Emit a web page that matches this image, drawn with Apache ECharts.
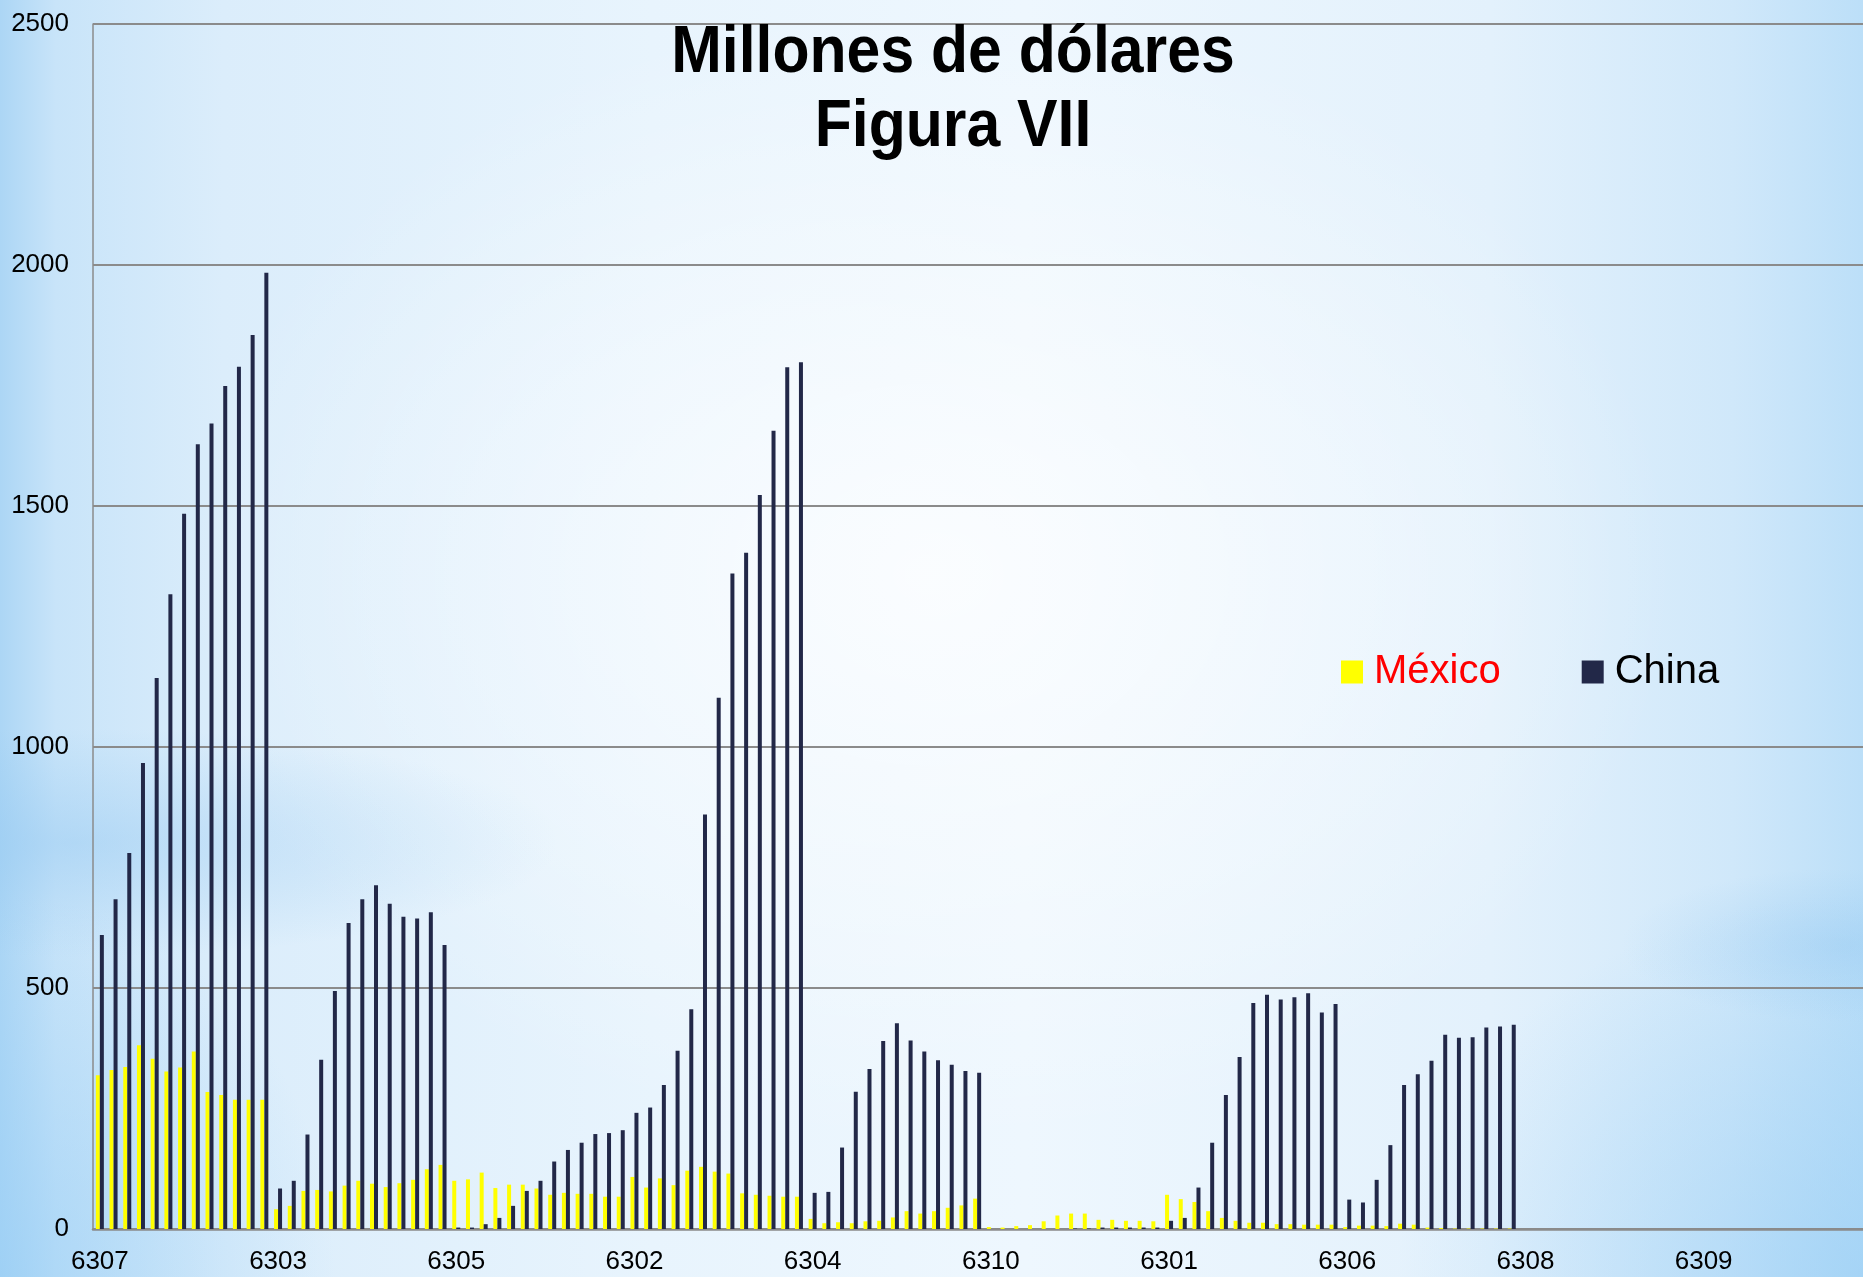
<!DOCTYPE html>
<html>
<head>
<meta charset="utf-8">
<script src="https://cdn.jsdelivr.net/npm/echarts@6/dist/echarts.min.js"></script>
<style>
html, body { margin: 0; padding: 0; width: 1863px; height: 1277px; overflow: hidden; }
#wrap {
  width: 1863px; height: 1277px; overflow: hidden; position: relative;
  background:
    radial-gradient(ellipse 26% 9% at 4% 66%, rgba(140,196,240,0.40) 0%, rgba(140,196,240,0) 100%),
    radial-gradient(ellipse 12% 6% at 99% 74%, rgba(140,196,240,0.35) 0%, rgba(140,196,240,0) 100%),
    radial-gradient(ellipse 40% 45% at 50% 45%, rgba(255,255,255,0.75) 0%, rgba(255,255,255,0) 100%),
    radial-gradient(ellipse 25% 30% at 100% 100%, rgba(150,205,245,0.6) 0%, rgba(150,205,245,0) 100%),
    radial-gradient(ellipse 18% 30% at 0% 100%, rgba(150,205,245,0.6) 0%, rgba(150,205,245,0) 100%),
    linear-gradient(90deg, #acd6f5 0%, #c8e4f9 3%, #dbedfb 12%, #e8f4fd 35%, #eef7fe 55%, #e3f1fc 80%, #d0e8fa 93%, #bcdff8 100%);
}
#chart { position: absolute; left: 0; top: 0; width: 1875px; height: 1277px; }
</style>
</head>
<body>
<div id="wrap"><div id="chart"></div></div>
<script>
// Product groups shown on the category axis (13 bars per group)
const products = ['6307', '6303', '6305', '6302', '6304', '6310', '6301', '6306', '6308', '6309'];
const barsPerProduct = 13;

// México (millions of dollars)
const mexico = [
  319, 330, 336, 381, 353, 327, 335, 368, 284, 278, 268, 268, 268,
  41, 48, 79, 81, 78, 90, 100, 94, 87, 95, 102, 124, 133,
  100, 103, 117, 85, 92, 92, 84, 71, 75, 73, 73, 67, 67,
  108, 86, 105, 91, 121, 129, 119, 115, 74, 71, 69, 67, 67,
  21, 12, 14, 12, 16, 17, 24, 37, 32, 37, 44, 49, 63,
  4, 3, 6, 8, 16, 28, 32, 32, 19, 19, 17, 17, 16,
  71, 62, 56, 37, 23, 17, 13, 13, 10, 10, 9, 9, 9,
  4, 7, 7, 6, 11, 9, 3, 2, 1, 1, 1, 1, 1,
  null, null, null, null, null, null, null, null, null, null, null, null, null,
  null, null, null, null, null, null, null, null, null, null, null, null, null
];

// China (millions of dollars)
const china = [
  610, 684, 780, 967, 1143, 1317, 1484, 1628, 1671, 1749, 1789, 1855, 1984,
  84, 100, 196, 351, 494, 635, 684, 713, 675, 648, 644, 657, 589,
  3, 3, 10, 23, 48, 79, 100, 140, 164, 179, 197, 199, 205,
  241, 252, 299, 370, 456, 860, 1102, 1360, 1403, 1523, 1656, 1788, 1798,
  75, 77, 169, 285, 332, 390, 427, 391, 368, 350, 341, 328, 324,
  0, 0, 0, 0, 0, 0, 1, 1, 3, 3, 3, 3, 3,
  17, 23, 86, 179, 278, 357, 469, 486, 476, 481, 489, 449, 467,
  61, 55, 102, 174, 299, 321, 349, 403, 397, 398, 418, 420, 424,
  null, null, null, null, null, null, null, null, null, null, null, null, null,
  null, null, null, null, null, null, null, null, null, null, null, null, null
];

const yMin = 0, yMax = 2500, yStep = 500;
const titleLines = ['Millones de dólares', 'Figura VII'];

const categories = [];
products.forEach(p => { for (let k = 1; k <= barsPerProduct; k++) categories.push(p + '|' + k); });

const chart = echarts.init(document.getElementById('chart'), null, { renderer: 'canvas' });
const gridColor = '#8b8b8b';
const font = '"Liberation Sans", Arial, sans-serif';

chart.setOption({
  backgroundColor: 'transparent',
  animation: false,
  graphic: [
    {
      type: 'text', x: 953, y: 54, scaleX: 0.92, scaleY: 1, z: 10,
      style: { text: titleLines[0], font: 'bold 66px "Liberation Sans", Arial, sans-serif', fill: '#000', align: 'center', verticalAlign: 'middle' }
    },
    {
      type: 'text', x: 953, y: 128, scaleX: 0.92, scaleY: 1, z: 10,
      style: { text: titleLines[1], font: 'bold 66px "Liberation Sans", Arial, sans-serif', fill: '#000', align: 'center', verticalAlign: 'middle' }
    }
  ],
  legend: {
    left: 1336, top: 647,
    icon: 'rect', itemWidth: 22, itemHeight: 23, itemGap: 81,
    textStyle: { fontFamily: font, fontSize: 40, padding: [0, 0, 0, 6] },
    data: [
      { name: 'México', textStyle: { color: '#ff0000' } },
      { name: 'China', textStyle: { color: '#000000' } }
    ]
  },
  grid: { left: 93, right: 0, top: 24, bottom: 48, containLabel: false },
  xAxis: {
    type: 'category',
    data: categories,
    boundaryGap: true,
    axisLine: { show: true, lineStyle: { color: gridColor, width: 2.5 } },
    axisTick: { show: false },
    axisLabel: {
      interval: barsPerProduct - 1,
      formatter: v => v.split('|')[0],
      color: '#000', fontSize: 26, margin: 20, fontFamily: font
    },
    splitLine: { show: false }
  },
  yAxis: {
    type: 'value', min: yMin, max: yMax, interval: yStep,
    axisLine: { show: true, lineStyle: { color: gridColor, width: 1.5 } },
    axisTick: { show: false },
    axisLabel: { color: '#000', fontSize: 26, margin: 24, fontFamily: font, formatter: v => String(v) },
    splitLine: { show: true, lineStyle: { color: gridColor, width: 1.8 } }
  },
  series: [
    {
      name: 'México', type: 'bar', data: mexico,
      barWidth: 4, barGap: '0%',
      itemStyle: { color: '#ffff00' }
    },
    {
      name: 'China', type: 'bar', data: china,
      barWidth: 4, barGap: '0%',
      itemStyle: { color: '#222848' }
    }
  ]
});
</script>
</body>
</html>
